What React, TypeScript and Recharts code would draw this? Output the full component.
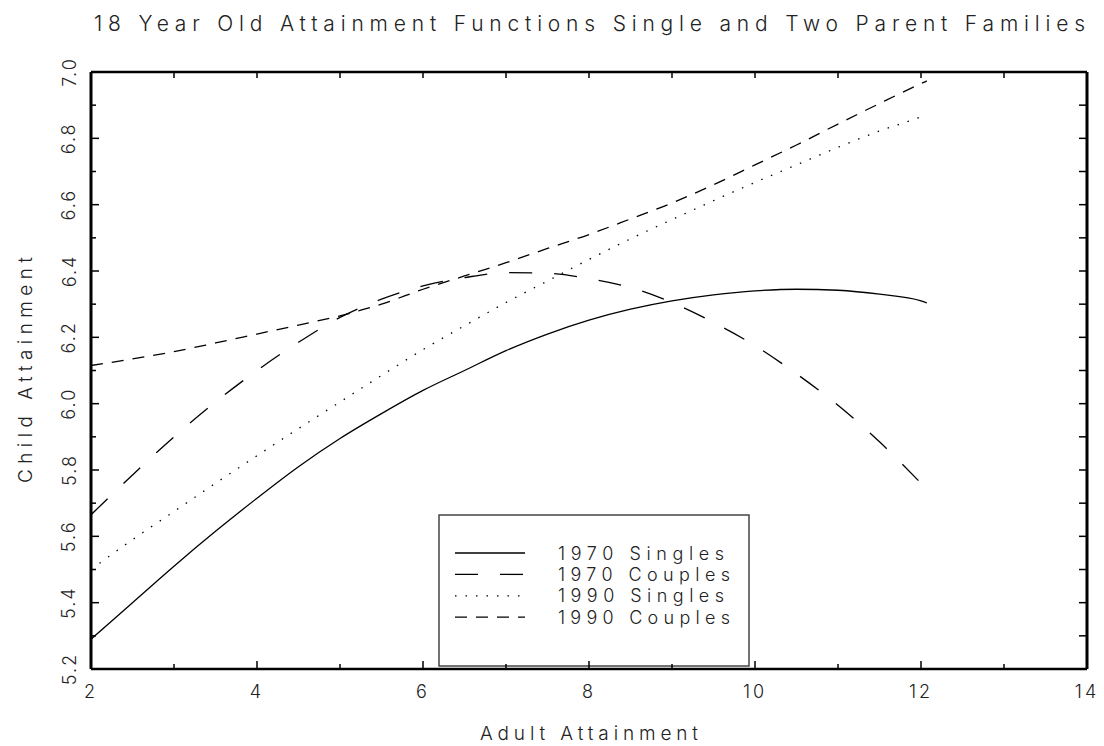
import { LineChart, Line, XAxis, YAxis, Customized } from "recharts";

// values
const adult = [2, 2.5, 3, 3.5, 4, 4.5, 5, 5.5, 6, 6.5, 7, 7.5, 8, 8.5, 9, 9.5, 10, 10.5, 11, 11.5, 12, 12.07];
const singles1970 = [5.29, 5.4, 5.51, 5.615, 5.715, 5.81, 5.895, 5.97, 6.04, 6.1, 6.16, 6.21, 6.252, 6.285, 6.31, 6.328, 6.34, 6.345, 6.342, 6.33, 6.31, 6.304];
const couples1970 = [5.665, 5.785, 5.9, 6.005, 6.1, 6.185, 6.26, 6.315, 6.355, 6.38, 6.395, 6.393, 6.377, 6.35, 6.305, 6.245, 6.175, 6.09, 5.995, 5.885, 5.76, null];
const singles1990 = [5.5, 5.59, 5.675, 5.76, 5.843, 5.925, 6.005, 6.085, 6.163, 6.235, 6.305, 6.37, 6.435, 6.497, 6.555, 6.612, 6.667, 6.72, 6.773, 6.822, 6.865, 6.872];
const couples1990 = [6.115, 6.135, 6.157, 6.183, 6.21, 6.237, 6.265, 6.3, 6.345, 6.385, 6.425, 6.468, 6.51, 6.557, 6.605, 6.66, 6.72, 6.78, 6.843, 6.905, 6.965, 6.973];

const xTicks = [2, 3, 4, 5, 6, 7, 8, 9, 10, 11, 12, 13, 14];
const xLabels = [2, 4, 6, 8, 10, 12, 14];
const yTicks = [5.2, 5.3, 5.4, 5.5, 5.6, 5.7, 5.8, 5.9, 6.0, 6.1, 6.2, 6.3, 6.4, 6.5, 6.6, 6.7, 6.8, 6.9, 7.0];
const yLabels = [5.2, 5.4, 5.6, 5.8, 6.0, 6.2, 6.4, 6.6, 6.8, 7.0];

const series = [
  { key: "s70", name: "1970 Singles", dash: undefined as string | undefined, len: 166 },
  { key: "c70", name: "1970 Couples", dash: "23 22", len: 172 },
  { key: "s90", name: "1990 Singles", dash: "1.5 9", len: 166 },
  { key: "c90", name: "1990 Couples", dash: "12 9", len: 172 },
];

const data = adult.map((x, i) => ({
  x,
  s70: singles1970[i],
  c70: couples1970[i],
  s90: singles1990[i],
  c90: couples1990[i],
}));

const FONT = "Inter, 'DejaVu Sans', sans-serif";
const INK = "#222";

const has = (arr: number[], v: number) => arr.some((a) => Math.abs(a - v) < 1e-6);

const BottomTick = (p: any) => {
  const v = p.payload.value;
  const major = has(xLabels, v);
  return (
    <g>
      <line x1={p.x} x2={p.x} y1={p.y} y2={p.y - (major ? 8 : 5)} stroke="#000" strokeWidth={1.5} />
      {major && (
        <text x={p.x} y={p.y + 22} textAnchor="middle" dominantBaseline="central" fontFamily={FONT} fontWeight={300} fontSize={18} letterSpacing={3} fill={INK}>
          {v}
        </text>
      )}
    </g>
  );
};

const TopTick = (p: any) => (
  <line x1={p.x} x2={p.x} y1={p.y} y2={p.y + 6} stroke="#000" strokeWidth={1.5} />
);

const LeftTick = (p: any) => {
  const v = p.payload.value;
  const major = has(yLabels, v);
  const lx = p.x - 22;
  return (
    <g>
      <line x1={p.x} x2={p.x + (major ? 8 : 5)} y1={p.y} y2={p.y} stroke="#000" strokeWidth={1.5} />
      {major && (
        <text x={lx} y={p.y} transform={`rotate(-90, ${lx}, ${p.y})`} textAnchor="middle" dominantBaseline="central" fontFamily={FONT} fontWeight={300} fontSize={18} letterSpacing={2} fill={INK}>
          {v.toFixed(1)}
        </text>
      )}
    </g>
  );
};

const RightTick = (p: any) => (
  <line x1={p.x} x2={p.x - 8} y1={p.y} y2={p.y} stroke="#000" strokeWidth={1.5} />
);

const LegendBox = () => (
  <g>
    <rect x={439} y={515} width={310} height={151} fill="#fff" stroke="#444" strokeWidth={1.5} />
    {series.map((s, i) => {
      const y = 553 + i * 21.4;
      return (
        <g key={s.key}>
          <line x1={455} x2={525} y1={y} y2={y} stroke="#000" strokeWidth={1.3} strokeDasharray={s.dash} />
          <text x={558} y={y} dominantBaseline="central" fontFamily={FONT} fontWeight={300} fontSize={18} textLength={s.len} lengthAdjust="spacing" fill={INK}>
            {s.name}
          </text>
        </g>
      );
    })}
  </g>
);

const Titles = () => (
  <g fontFamily={FONT} fontWeight={300} fill={INK}>
    <text x={94} y={23} dominantBaseline="central" fontSize={21} textLength={991} lengthAdjust="spacing">
      18 Year Old Attainment Functions Single and Two Parent Families
    </text>
    <text x={589} y={733} textAnchor="middle" dominantBaseline="central" fontSize={19} textLength={218} lengthAdjust="spacing">
      Adult Attainment
    </text>
    <text x={25} y={370} transform="rotate(-90, 25, 370)" textAnchor="middle" dominantBaseline="central" fontSize={19} textLength={226} lengthAdjust="spacing">
      Child Attainment
    </text>
  </g>
);

export default function App() {
  return (
    <div style={{ position: "absolute", left: 0, top: 0, background: "#fff" }}>
      <LineChart width={1104} height={746} data={data} margin={{ top: 62, right: 7, bottom: 47, left: 61 }}>
        <XAxis dataKey="x" type="number" domain={[2, 14]} ticks={xTicks} interval={0} allowDataOverflow height={30}
          axisLine={{ stroke: "#000", strokeWidth: 2.5 }} tickLine={false} tickSize={0} tickMargin={0} tick={BottomTick} />
        <XAxis xAxisId="top" orientation="top" dataKey="x" type="number" domain={[2, 14]} ticks={xTicks} interval={0} allowDataOverflow height={10}
          axisLine={{ stroke: "#000", strokeWidth: 2.5 }} tickLine={false} tickSize={0} tickMargin={0} tick={TopTick} />
        <YAxis type="number" domain={[5.2, 7.0]} ticks={yTicks} interval={0} allowDataOverflow width={30}
          axisLine={{ stroke: "#000", strokeWidth: 3 }} tickLine={false} tickSize={0} tickMargin={0} tick={LeftTick} />
        <YAxis yAxisId="right" orientation="right" type="number" domain={[5.2, 7.0]} ticks={yTicks} interval={0} allowDataOverflow width={10}
          axisLine={{ stroke: "#000", strokeWidth: 3 }} tickLine={false} tickSize={0} tickMargin={0} tick={RightTick} />
        {series.map((s) => (
          <Line key={s.key} dataKey={s.key} type="monotone" stroke="#000" strokeWidth={1.3} strokeDasharray={s.dash}
            dot={false} activeDot={false} isAnimationActive={false} />
        ))}
        <Customized component={LegendBox} />
        <Customized component={Titles} />
      </LineChart>
    </div>
  );
}
